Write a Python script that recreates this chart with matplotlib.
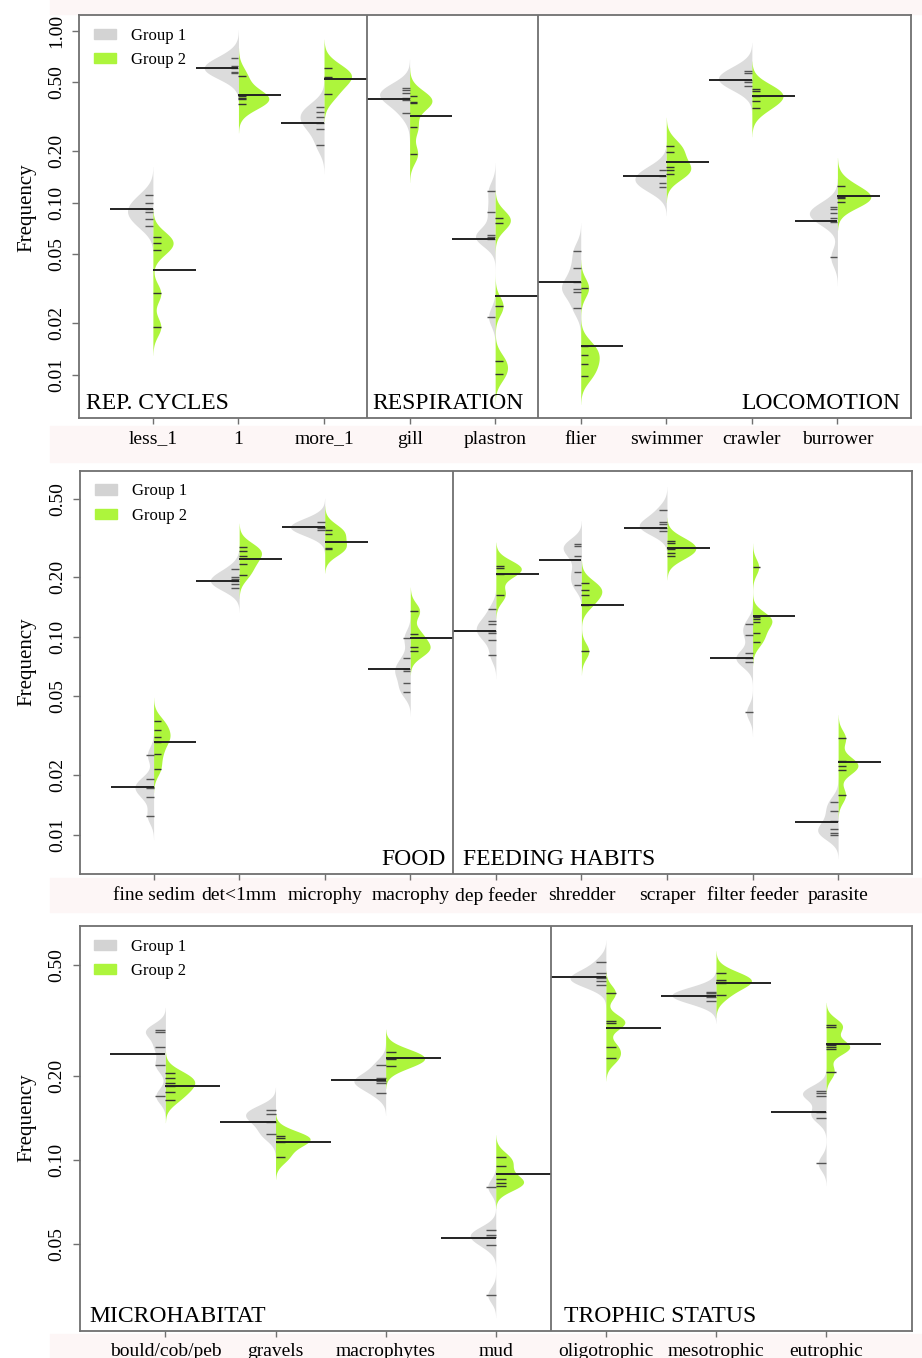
import numpy as np
import matplotlib.pyplot as plt
from matplotlib.patches import Patch, Rectangle
import matplotlib.transforms as mtransforms

plt.rcParams['font.family'] = ['Liberation Serif', 'DejaVu Serif']

GRAY = '#dcdcdc'
GREEN = '#adf53c'
FRAME = '#707070'

# ---- panel 1: reproductive cycles / respiration / locomotion
p1_cats = ['less_1', '1', 'more_1', 'gill', 'plastron', 'flier', 'swimmer', 'crawler', 'burrower']
p1_g1 = [
    [0.111, 0.0995, 0.0915, 0.0879, 0.080, 0.073],
    [0.691, 0.626, 0.610, 0.578, 0.565],
    [0.361, 0.338, 0.316, 0.289, 0.267, 0.216],
    [0.466, 0.452, 0.432, 0.404, 0.396, 0.331],
    [0.117, 0.0887, 0.0648, 0.0634, 0.0617, 0.0217],
    [0.0524, 0.0416, 0.0348, 0.0314, 0.0304, 0.0243],
    [0.155, 0.1435, 0.1307, 0.1229],
    [0.585, 0.565, 0.517, 0.505, 0.477],
    [0.0948, 0.0915, 0.0868, 0.0818, 0.0775, 0.0482],
]
p1_g2 = [
    [0.0634, 0.0585, 0.0531, 0.0297, 0.019],
    [0.543, 0.417, 0.408, 0.401, 0.373],
    [0.610, 0.536, 0.528, 0.4266],
    [0.419, 0.3835, 0.378, 0.274, 0.192],
    [0.0818, 0.0765, 0.0251, 0.0120, 0.01005],
    [0.0320, 0.01475, 0.0130, 0.01149, 0.00983],
    [0.2145, 0.196, 0.162, 0.155, 0.1468],
    [0.456, 0.446, 0.417, 0.390, 0.354],
    [0.125, 0.1084, 0.106, 0.1014],
]
p1_mean1 = [0.0915, 0.61, 0.289, 0.401, 0.0617, 0.0348, 0.1435, 0.517, 0.0782]
p1_mean2 = [0.0406, 0.4226, 0.524, 0.318, 0.0286, 0.01475, 0.173, 0.417, 0.1094]

# ---- panel 2: food / feeding habits
p2_cats = ['fine sedim', 'det<1mm', 'microphy', 'macrophy', 'dep feeder',
           'shredder', 'scraper', 'filter feeder', 'parasite']
p2_g1 = [
    [0.0253, 0.01905, 0.01748, 0.01715, 0.01545, 0.01243],
    [0.2216, 0.201, 0.196, 0.1918, 0.1846, 0.1756],
    [0.381, 0.3594, 0.3552, 0.3459],
    [0.0989, 0.0783, 0.0685, 0.0669, 0.0582, 0.0524],
    [0.138, 0.120, 0.1155, 0.1072, 0.1047, 0.0962, 0.0808],
    [0.2938, 0.287, 0.2565, 0.2129, 0.1839],
    [0.4364, 0.381, 0.371, 0.3552, 0.342],
    [0.1155, 0.102, 0.0824, 0.0778, 0.0743, 0.0415],
    [0.01468, 0.0132, 0.01173, 0.01065, 0.01023, 0.00997],
]
p2_g2 = [
    [0.0375, 0.0340, 0.0313, 0.0293, 0.0255, 0.0215],
    [0.2848, 0.272, 0.2565, 0.2328, 0.2066],
    [0.3486, 0.3302, 0.2828, 0.2773],
    [0.1353, 0.1028, 0.089, 0.0847],
    [0.2284, 0.2231, 0.209, 0.1637],
    [0.1861, 0.1722, 0.1637, 0.1457, 0.0847],
    [0.3053, 0.2983, 0.2796, 0.2656, 0.2565],
    [0.2257, 0.1262, 0.1225, 0.1182, 0.1041, 0.0943],
    [0.0307, 0.0236, 0.0223, 0.0212, 0.01586],
]
p2_mean1 = [0.01736, 0.1927, 0.358, 0.0685, 0.1072, 0.246, 0.3552, 0.0778, 0.01163]
p2_mean2 = [0.0293, 0.2489, 0.3034, 0.0989, 0.209, 0.1457, 0.2815, 0.1272, 0.02337]

# ---- panel 3: microhabitat / trophic status
p3_cats = ['bould/cob/peb', 'gravels', 'macrophytes', 'mud',
           'oligotrophic', 'mesotrophic', 'eutrophic']
p3_g1 = [
    [0.2928, 0.2887, 0.2538, 0.2191, 0.1697],
    [0.1511, 0.1462, 0.1372, 0.1236],
    [0.2191, 0.1964, 0.1925, 0.1894, 0.1743],
    [0.0801, 0.056, 0.0537, 0.053, 0.0495, 0.0327],
    [0.5127, 0.468, 0.455, 0.449, 0.440, 0.425],
    [0.402, 0.3967, 0.3911, 0.3857, 0.373],
    [0.1768, 0.1735, 0.1701, 0.149, 0.1418, 0.0973],
]
p3_g2 = [
    [0.2046, 0.1973, 0.1894, 0.1842, 0.1749, 0.1641],
    [0.1218, 0.1196, 0.1157, 0.1027],
    [0.2447, 0.2329, 0.2304, 0.2174],
    [0.1022, 0.0951, 0.0852, 0.0828, 0.0806],
    [0.398, 0.315, 0.3094, 0.2538, 0.2317],
    [0.468, 0.4428, 0.4366, 0.4308, 0.3911],
    [0.3052, 0.301, 0.2587, 0.2538, 0.2497, 0.2074],
]
p3_mean1 = [0.2394, 0.1372, 0.1936, 0.0523, 0.455, 0.3889, 0.149]
p3_mean2 = [0.1842, 0.1162, 0.2317, 0.0887, 0.297, 0.433, 0.2608]

W, H = 922, 1358
fig = plt.figure(figsize=(W / 100, H / 100), dpi=100)

# faint bands behind the tick labels
for y0, y1 in [(0, 14), (426, 462), (878, 912), (1334, 1358)]:
    fig.patches.append(Rectangle((50 / W, 1 - y1 / H), (W - 50) / W, (y1 - y0) / H,
                                 transform=fig.transFigure, color='#fdf6f6', zorder=-5))


def kde(pts, bw):
    lp = np.log10(pts)
    grid = np.linspace(lp.min() - 3 * bw, lp.max() + 3 * bw, 400)
    d = np.exp(-0.5 * ((grid[:, None] - lp[None, :]) / bw) ** 2).sum(1)
    d /= len(lp) * bw * np.sqrt(2 * np.pi)
    return 10 ** grid, d


def beanpanel(rect, cats, g1, g2, m1, m2, bw, ylim, yticks, seps, labels, ylab_y):
    ax = fig.add_axes(rect)
    n = len(cats)
    pos = np.arange(1, n + 1)
    dens1 = [kde(p, bw) for p in g1]
    dens2 = [kde(p, bw) for p in g2]
    dmax = max(d.max() for _, d in dens1 + dens2)
    sc = 0.4 / dmax
    for i, p in enumerate(pos):
        y, d = dens1[i]
        ax.fill_betweenx(y, p - d * sc, p, color=GRAY, lw=0)
        y, d = dens2[i]
        ax.fill_betweenx(y, p, p + d * sc, color=GREEN, lw=0)
        ax.hlines(g1[i], p - 0.09, p, color='#555555', lw=1)
        ax.hlines(g2[i], p, p + 0.09, color='#333333', lw=1)
        ax.hlines(m1[i], p - 0.5, p, color='#222222', lw=1.4)
        ax.hlines(m2[i], p, p + 0.5, color='#222222', lw=1.4)
    for s in seps:
        ax.axvline(s, color=FRAME, lw=1.3)
    ax.set_yscale('log')
    ax.set_ylim(*ylim)
    ax.set_xlim(0.5 - 0.04 * n, n + 0.5 + 0.04 * n)
    ax.set_yticks(yticks)
    ax.set_yticklabels(['%.2f' % v for v in yticks], rotation=90, va='center')
    ax.yaxis.set_minor_locator(plt.NullLocator())
    ax.set_xticks(pos)
    ax.set_xticklabels(cats)
    ax.tick_params(axis='x', length=4, width=1, color=FRAME, pad=5, labelsize=14)
    ax.tick_params(axis='y', length=5, width=1, color=FRAME, pad=5, labelsize=14)
    for sp in ax.spines.values():
        sp.set_color(FRAME)
        sp.set_linewidth(1.3)
    trans = mtransforms.blended_transform_factory(ax.transData, ax.transAxes)
    for x, txt, ha in labels:
        ax.text(x, 0.022, txt, transform=trans, ha=ha, va='baseline', fontsize=17)
    ax.legend(handles=[Patch(color='#d3d3d3', label='Group 1'),
                       Patch(color=GREEN, label='Group 2')],
              loc='upper left', bbox_to_anchor=(0.01, 0.985), frameon=False,
              fontsize=12, handlelength=1.3, handleheight=0.6,
              handletextpad=0.9, labelspacing=0.5, borderaxespad=0)
    fig.text(27 / W, 1 - ylab_y / H, 'Frequency', rotation=90, ha='center',
             va='center', fontsize=15)
    return ax


beanpanel([79.3 / W, 1 - 418 / H, 831.7 / W, 403 / H],
          p1_cats, p1_g1, p1_g2, p1_mean1, p1_mean2, 0.055,
          (0.0056, 1.234), [1.0, 0.5, 0.2, 0.1, 0.05, 0.02, 0.01], [3.5, 5.5],
          [(0.22, 'REP. CYCLES', 'left'), (3.57, 'RESPIRATION', 'left'),
           (9.74, 'LOCOMOTION', 'right')], 208)

beanpanel([80 / W, 1 - 874.3 / H, 831.7 / W, 403.6 / H],
          p2_cats, p2_g1, p2_g2, p2_mean1, p2_mean2, 0.04,
          (0.0063, 0.692), [0.5, 0.2, 0.1, 0.05, 0.02, 0.01], [4.5],
          [(4.42, 'FOOD', 'right'), (4.62, 'FEEDING HABITS', 'left')], 662)

beanpanel([79.5 / W, 1 - 1331 / H, 832.5 / W, 405 / H],
          p3_cats, p3_g1, p3_g2, p3_mean1, p3_mean2, 0.027,
          (0.0243, 0.692), [0.5, 0.2, 0.1, 0.05], [4.5],
          [(0.306, 'MICROHABITAT', 'left'), (4.62, 'TROPHIC STATUS', 'left')], 1118)

fig.savefig('out.png', dpi=100)
